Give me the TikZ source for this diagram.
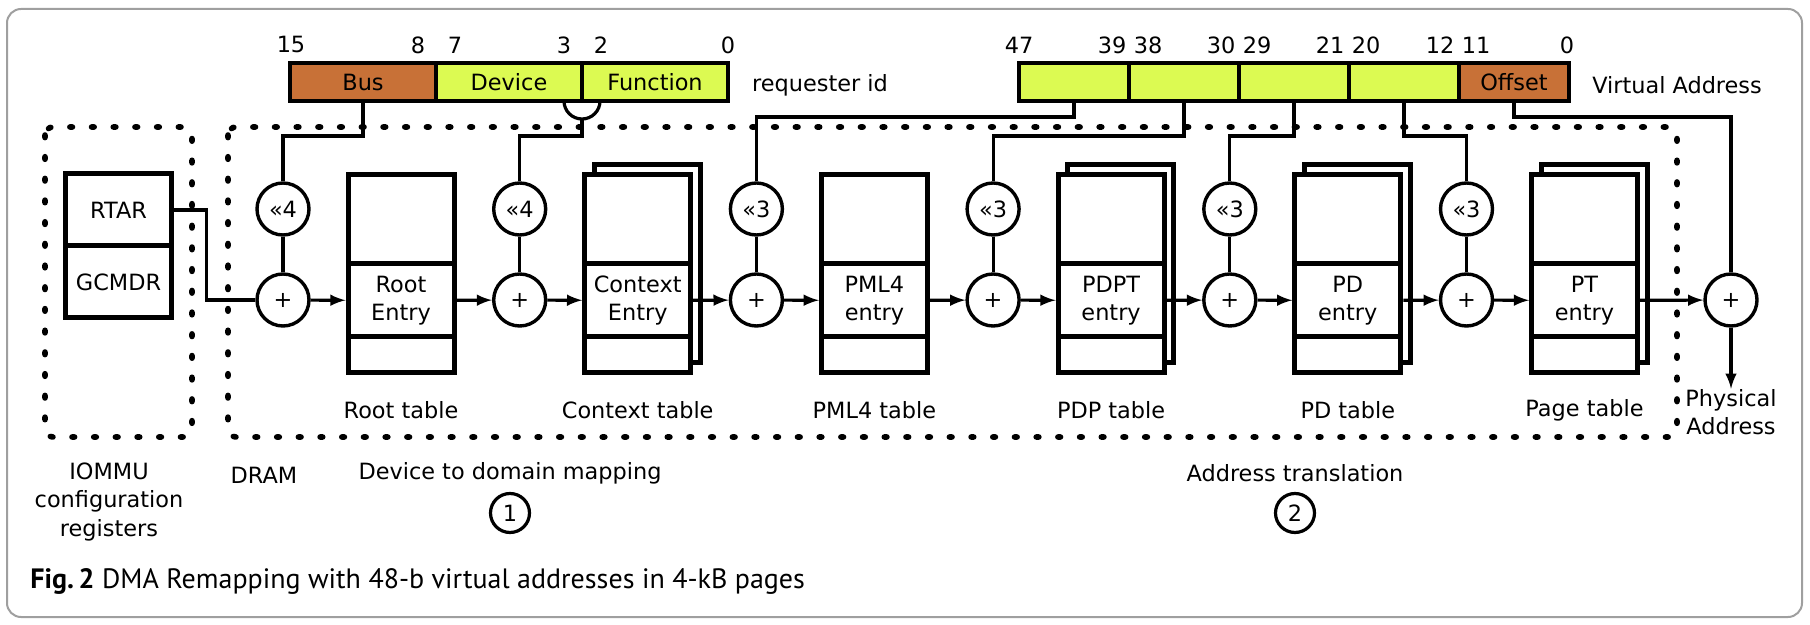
\documentclass[tikz,border=0pt]{standalone}
\usepackage{fontspec}
\setmainfont{DejaVu Sans}
\newfontfamily\capfont{PT Sans}
\usepackage{tikz}
\usetikzlibrary{arrows}
\usetikzlibrary{positioning}
\definecolor{rust}{HTML}{C87137}
\definecolor{lime}{HTML}{DCFA52}

\begin{document}
\begin{tikzpicture}
          [x=0.5pt, y=-0.5pt,
           every node/.style={font=\fontsize{11.2}{14.2}\selectfont, inner sep=0pt},
           field/.style={draw, line width=2.3pt, minimum height=19pt, outer sep=0pt},
           reg/.style={draw, line width=2.5pt, minimum width=53pt, minimum height=36pt, outer sep=0pt},
           tbl/.style={draw, fill=white, line width=2.5pt, minimum width=53pt, minimum height=99pt},
           entry/.style={draw, fill=white, line width=2.5pt, minimum width=53pt, minimum height=36.5pt, align=center},
           op/.style={draw, circle, line width=1.7pt, minimum size=26pt},
           num/.style={draw, circle, line width=1.6pt, minimum size=19.5pt},
           wire/.style={line width=1.6pt},
           region/.style={line width=2.8pt, line cap=round, dash pattern=on 1.3pt off 9.55pt, rounded corners=4pt},
           figframe/.style={draw=gray!75, line width=1pt, rounded corners=7pt}]
          \useasboundingbox (0,0) rectangle (1810,625);
          \draw[figframe] (7,9) rectangle (1802,617);

          \draw[region] (45,127) rectangle (192,437);
          \draw[region] (228,127) rectangle (1677,437);

          \node (bus) [field, fill=rust, minimum width=73pt] at (363,82) {Bus};
          \node (device) [field, fill=lime, minimum width=73pt, right=0pt of bus] {Device};
          \node (function) [field, fill=lime, minimum width=73pt, right=0pt of device] {Function};
          \node (reqid) at (820,85) {requester id};

          \node (va1) [field, fill=lime, minimum width=55pt] at (1074,82) {};
          \node (va2) [field, fill=lime, minimum width=55pt, right=0pt of va1] {};
          \node (va3) [field, fill=lime, minimum width=55pt, right=0pt of va2] {};
          \node (va4) [field, fill=lime, minimum width=55pt, right=0pt of va3] {};
          \node (offset) [field, fill=rust, minimum width=55pt, right=0pt of va4] {Offset};
          \node (vaddr) at (1677,85) {Virtual Address};

          \foreach \b/\x in {15/291, 8/418, 7/455, 3/564, 2/601, 0/728,
                             47/1019, 39/1112, 38/1148, 30/1221, 29/1257,
                             21/1330, 20/1366, 12/1440, 11/1476, 0/1567}
            \node (bit\x) at (\x,45) {\b};

          \node (rtar) [reg] at (118.5,210) {RTAR};
          \node (gcmdr) [reg, below=0pt of rtar] {GCMDR};

          \foreach \n/\i in {context/1, pdp/3, pd/4, pt/5}
            \node (\n-back) [tbl] at ({410.5+236.7*\i},264) {};

          \foreach \n/\sh/\ent/\lbl [count=\i from 0] in
            {root/«4/{Root\\Entry}/{Root table},
             context/«4/{Context\\Entry}/{Context table},
             pml/«3/{PML4\\entry}/{PML4 table},
             pdp/«3/{PDPT\\entry}/{PDP table},
             pd/«3/{PD\\entry}/{PD table},
             pt/«3/{PT\\entry}/{Page table}}
          {
            \node (shift\n) [op] at ({283+236.7*\i},209) {\sh};
            \node (plus\n) [op] at ({283+236.7*\i},300) {+};
            \node (\n) [tbl] at ({401+236.7*\i},273.5) {};
            \node (\n e) [entry] at ({401+236.7*\i},300.5) {\ent};
            \node (\n l) at ({401+236.7*\i},410) {\lbl};
            \draw[wire] (shift\n) -- (plus\n);
            \draw[wire, -latex] (plus\n) -- (\n e);
          }

          \node (plusf) [op] at (1731,300) {+};
          \node (phys) [align=center] at (1731,412) {Physical\\Address};

          \draw[wire, -latex] (roote) -- (pluscontext);
          \draw[wire, -latex] (contexte) -- (pluspml);
          \draw[wire, -latex] (pmle) -- (pluspdp);
          \draw[wire, -latex] (pdpe) -- (pluspd);
          \draw[wire, -latex] (pde) -- (pluspt);
          \draw[wire, -latex] (pte) -- (plusf);
          \draw[wire, -latex] (plusf) -- (phys);

          \draw[wire] (rtar.east) -- ++(35,0) |- (plusroot.west);
          \draw[wire] (bus.south) -- ++(0,35) -| (shiftroot.north);
          \draw[wire] ([xshift=-9pt]function.south west) arc[start angle=180, end angle=360, radius=9pt];
          \draw[wire] (function.south west) ++(0,18) -- ++(0,17) -| (shiftcontext.north);
          \draw[wire] (va1.south) -- ++(0,16) -| (shiftpml.north);
          \draw[wire] (va2.south) -- ++(0,35) -| (shiftpdp.north);
          \draw[wire] (va3.south) -- ++(0,35) -| (shiftpd.north);
          \draw[wire] (va4.south) -- ++(0,35) -| (shiftpt.north);
          \draw[wire] (offset.south) -- ++(0,16) -| (plusf.north);

          \node (iommu) [align=center] at (109,502) {IOMMU\\configuration\\registers};
          \node (dram) at (264,475) {DRAM};
          \node (mapping) at (510,473) {Device to domain mapping};
          \node (step1) [num] at (510,513) {1};
          \node (xlat) at (1295,473) {Address translation};
          \node (step2) [num] at (1295,513) {2};

          \node (caption) [anchor=base west, font=\capfont\fontsize{14}{17}\selectfont] at (30,588)
            {\textbf{Fig.\,2} DMA Remapping with 48-b virtual addresses in 4-kB pages};
        \end{tikzpicture}
\end{document}
